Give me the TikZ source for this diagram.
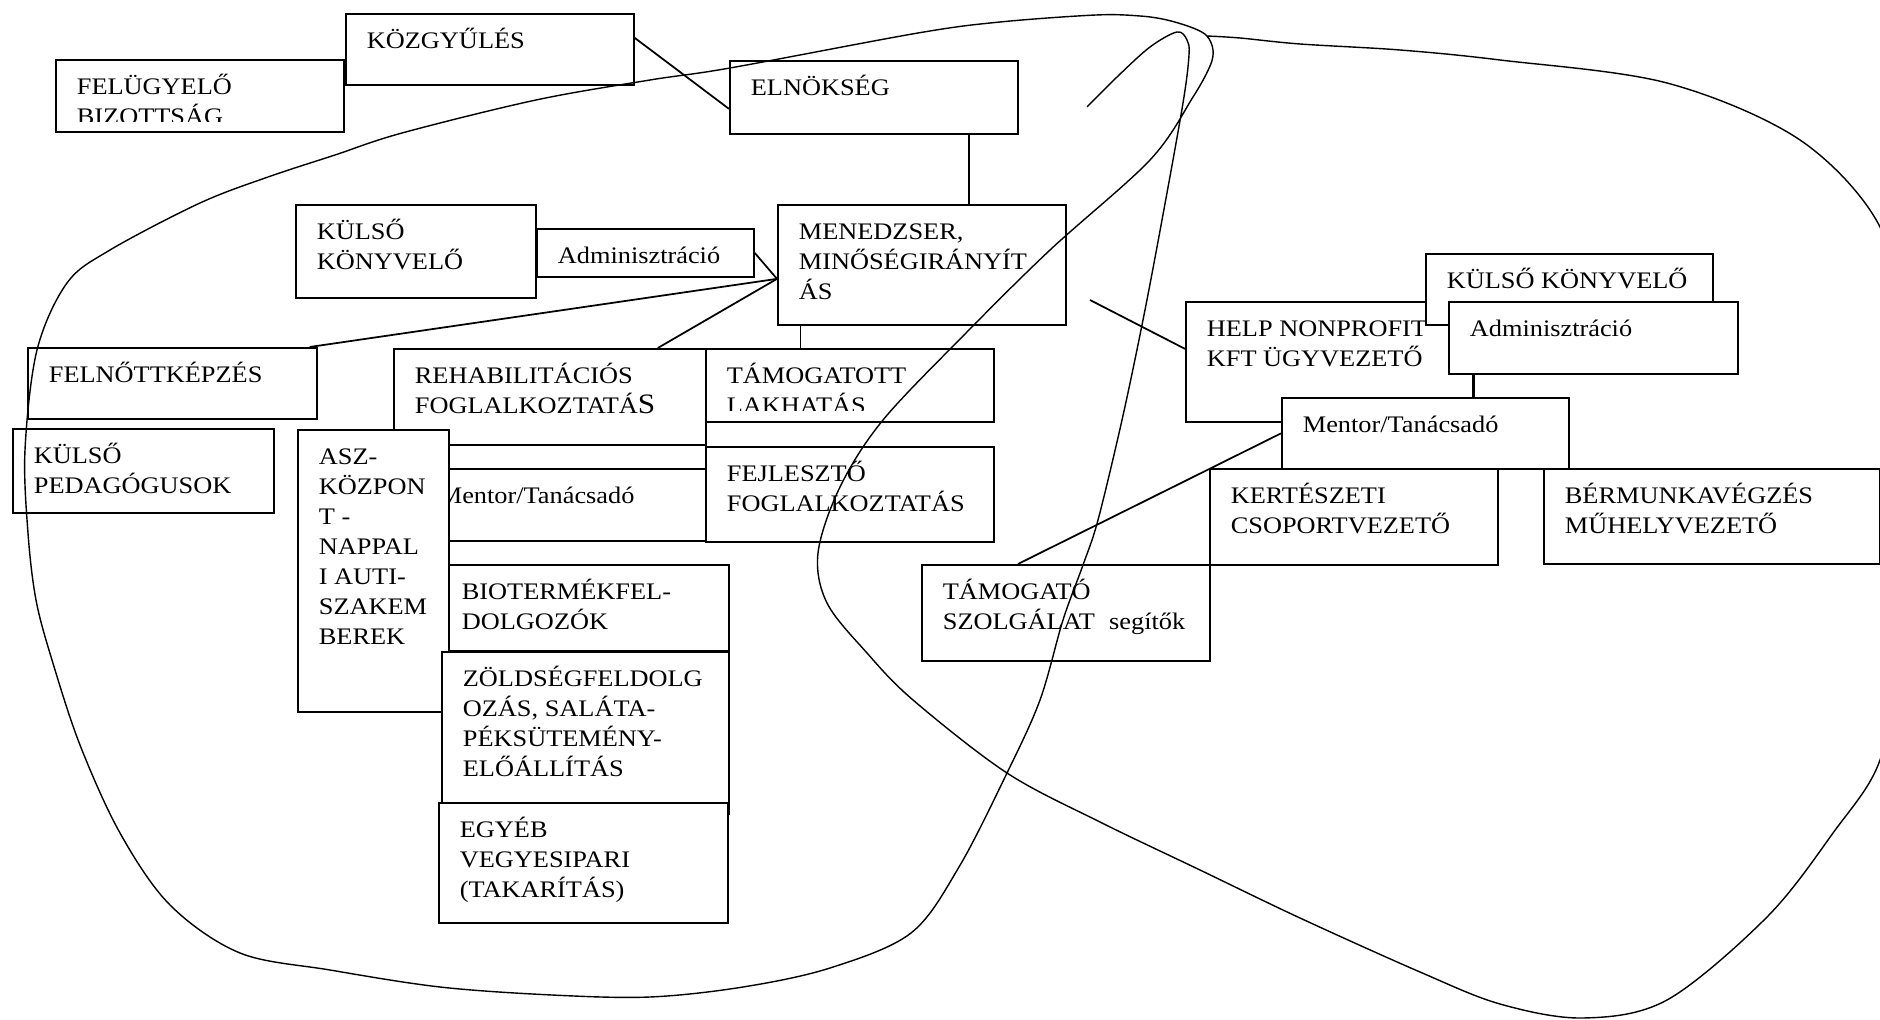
\documentclass[tikz,border=0pt]{standalone}
\usepackage{fontspec}
\setmainfont{Liberation Serif}[FakeStretch=1.11]
\usepackage{tikz}
\usetikzlibrary{calc}
\newcommand{\orgfont}{\fontsize{13.5}{17}\selectfont}
\newcommand{\orgtext}[3]{\parbox[b][#2][t]{#1}{\raggedright\leftskip=0.42cm\relax\rule{0pt}{0.70cm}#3}}

\begin{document}
\begin{tikzpicture}[x=0.02cm, y=-0.02cm,
    orgbox/.style={draw, fill=white, line width=1pt, inner sep=0pt, anchor=north west, font=\orgfont},
    link/.style={line width=1pt},
    lasso/.style={line width=0.8pt}]
    \useasboundingbox (0,0) rectangle (1880,1020);

    % Governing bodies
    \node[orgbox] (felugy) at (55,59) {\orgtext{5.76cm}{1.44cm}{FELÜGYELŐ\\BIZOTTSÁG}};
    \node[orgbox] (kozgy) at (345,13) {\orgtext{5.76cm}{1.42cm}{KÖZGYŰLÉS}};
    \node[orgbox] (elnok) at (729,60) {\orgtext{5.76cm}{1.46cm}{ELNÖKSÉG}};
    \node[orgbox] (kulsokv) at (295,204) {\orgtext{4.80cm}{1.86cm}{KÜLSŐ\\KÖNYVELŐ}};
    \node[orgbox] (admin) at (536,228) {\orgtext{4.34cm}{0.96cm}{Adminisztráció}};
    \node[orgbox] (menedzser) at (777,204) {\orgtext{5.76cm}{2.40cm}{MENEDZSER,\\MINŐSÉGIRÁNYÍT\\ÁS}};
    \node[orgbox] (felnott) at (27,347) {\orgtext{5.78cm}{1.42cm}{FELNŐTTKÉPZÉS}};
    \node[orgbox] (pedag) at (12,428) {\orgtext{5.22cm}{1.68cm}{KÜLSŐ\\PEDAGÓGUSOK}};

    % Association units
    \node[orgbox] (rehab) at (393,348) {\orgtext{6.24cm}{1.92cm}{REHABILITÁCIÓS\\FOGLALKOZTATÁ{\fontsize{16}{17}\selectfont S}}};
    \node[orgbox] (tamlak) at (705,348) {\orgtext{5.76cm}{1.46cm}{TÁMOGATOTT\\LAKHATÁS}};
    \node[orgbox] (mentor) at (417,468) {\orgtext{5.76cm}{1.44cm}{Mentor/Tanácsadó}};
    \node[orgbox] (fejl) at (705,446) {\orgtext{5.76cm}{1.90cm}{FEJLESZTŐ\\FOGLALKOZTATÁS}};
    \node[orgbox] (bio) at (440,564) {\orgtext{5.76cm}{1.72cm}{BIOTERMÉKFEL-\\DOLGOZÓK}};
    \node[orgbox] (asz) at (297,429) {\orgtext{3.02cm}{5.64cm}{ASZ-\\KÖZPON\\T -\\NAPPAL\\I AUTI-\\SZAKEM\\BEREK}};
    \node[orgbox] (zold) at (441,651) {\orgtext{5.74cm}{3.24cm}{ZÖLDSÉGFELDOLG\\OZÁS, SALÁTA-\\PÉKSÜTEMÉNY-\\ELŐÁLLÍTÁS}};
    \node[orgbox] (egyeb) at (438,802) {\orgtext{5.78cm}{2.40cm}{EGYÉB\\VEGYESIPARI\\(TAKARÍTÁS)}};

    % Nonprofit company
    \node[orgbox] (help) at (1185,301) {\orgtext{5.76cm}{2.40cm}{HELP NONPROFIT\\KFT ÜGYVEZETŐ}};
    \node[orgbox] (kulsokvk) at (1425,253) {\orgtext{5.74cm}{1.42cm}{KÜLSŐ KÖNYVELŐ}};
    \node[orgbox] (admink) at (1448,301) {\orgtext{5.78cm}{1.44cm}{Adminisztráció}};
    \node[orgbox] (mentork) at (1281,397) {\orgtext{5.74cm}{1.42cm}{Mentor/Tanácsadó}};
    \node[orgbox] (kert) at (1209,468) {\orgtext{5.76cm}{1.92cm}{KERTÉSZETI\\CSOPORTVEZETŐ}};
    \node[orgbox] (berm) at (1543,468) {\orgtext{6.72cm}{1.90cm}{BÉRMUNKAVÉGZÉS\\MŰHELYVEZETŐ}};
    \node[orgbox] (tamog) at (921,564) {\orgtext{5.76cm}{1.92cm}{TÁMOGATÓ\\SZOLGÁLAT\hspace{0.6em}segítők}};

    % Cut-off second lines
    \fill[white] ([shift={(0.04cm,0.04cm)}]felugy.south west) rectangle ([shift={(-0.04cm,0.22cm)}]felugy.south east);
    \fill[white] ([shift={(0.04cm,0.04cm)}]tamlak.south west) rectangle ([shift={(-0.04cm,0.24cm)}]tamlak.south east);

    % Connectors
    \draw[link] ([yshift=0.23cm]kozgy.east) -- ([yshift=-0.23cm]elnok.west);
    \coordinate (elink) at ([xshift=4.8cm]elnok.south west);
    \draw[link] (elink) -- (elink |- menedzser.north);
    \coordinate (mhub) at ([yshift=-0.28cm]menedzser.west);
    \draw[link] (admin.east) -- (mhub);
    \draw[link] (mhub) -- ([xshift=-0.16cm]felnott.north east);
    \draw[link] (mhub) -- ([xshift=2.16cm]rehab.north);
    \coordinate (mlink) at ([xshift=0.47cm]menedzser.south west);
    \draw[link] (mlink) -- (mlink |- tamlak.north);
    \coordinate (hfree) at (1090,300);
    \draw[link] (hfree) -- ([yshift=0.26cm]help.west);
    \coordinate (alink) at ([xshift=0.49cm]admink.south west);
    \draw[link] (alink) -- (alink |- mentork.north);
    \draw[link] (mentork.west) -- ([xshift=1.94cm]tamog.north west);

    % Freehand loops round the two organisations
    \begin{scope}
        \clip (0,0) rectangle (1880,1020);
        \draw[lasso] plot[smooth, tension=0.55] coordinates {
            (1087,107) (1117,77) (1150,47) (1177,32) (1187,40) (1189,55) (1183,103)
            (1162,220) (1143,320) (1122,420) (1098,520) (1083,565) (1063,620)
            (1040,700) (1007,773) (959,867) (911,933) (830,968) (743,987)
            (650,997) (552,995) (440,987) (330,970) (240,953) (170,905) (120,833)
            (80,745) (52,660) (36,600) (28,533) (25,450) (37,350) (67,283)
            (110,250) (200,203) (268,177) (335,155) (402,133) (536,100) (650,80)
            (730,68) (918,33) (1000,22) (1096,15) (1140,16) (1167,20) (1193,28)
            (1207,36) (1213,50) (1210,66) (1193,97) (1150,160) (1050,250)
            (966,333) (883,420) (840,487) (818,553) (827,603) (867,653) (913,700)
            (1007,773) (1100,822) (1200,870) (1300,918) (1420,972) (1500,1004)
            (1583,1018) (1667,1000) (1767,917) (1833,833) (1880,760) (1897,650)
            (1903,490) (1895,330) (1880,227) (1800,140) (1667,83) (1500,60)
            (1400,50) (1300,44) (1240,38) (1207,36)};
    \end{scope}
\end{tikzpicture}
\end{document}
